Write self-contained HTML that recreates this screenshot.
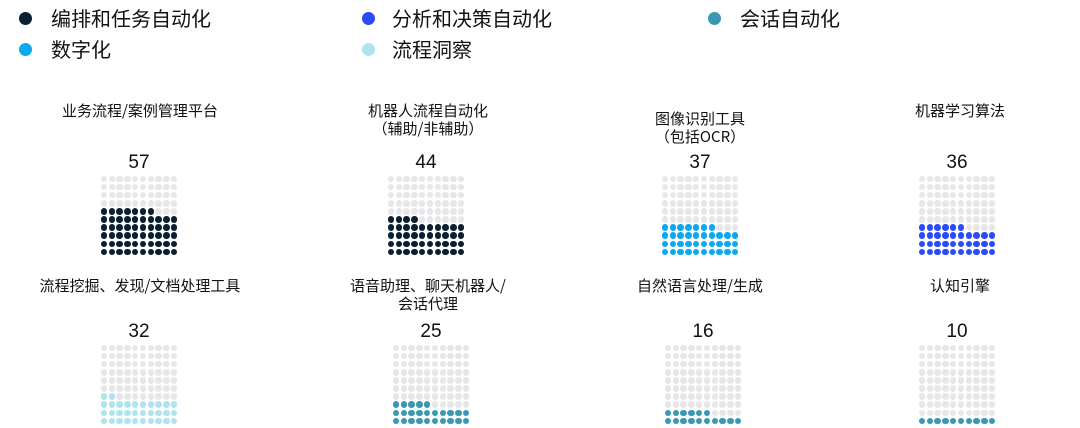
<!DOCTYPE html>
<html><head><meta charset="utf-8"><style>
body{margin:0;width:1080px;height:428px;background:#fff;position:relative;overflow:hidden;font-family:"Noto Sans CJK SC","Liberation Sans",sans-serif;color:#111}
.ld{position:absolute;width:13px;height:13px;border-radius:50%}
.lt{position:absolute;font-size:20px;line-height:22px}
.t{position:absolute;font-size:15px;line-height:18px;text-align:center;width:260px}
.n{position:absolute;font-size:19px;line-height:22px;text-align:center;width:100px;font-family:"Liberation Sans",sans-serif}
.d{position:absolute;width:6.6px;height:6.6px;border-radius:50%}
</style></head><body>
<div class="ld" style="left:19px;top:12px;background:#0b1f33"></div><div class="lt" style="left:51px;top:7px">编排和任务自动化</div>
<div class="ld" style="left:19px;top:43px;background:#0aa8ef"></div><div class="lt" style="left:51px;top:38px">数字化</div>
<div class="ld" style="left:362px;top:12px;background:#2a4bf5"></div><div class="lt" style="left:392px;top:7px">分析和决策自动化</div>
<div class="ld" style="left:362px;top:43px;background:#aee4ee"></div><div class="lt" style="left:392px;top:38px">流程洞察</div>
<div class="ld" style="left:708px;top:12px;background:#3a98b3"></div><div class="lt" style="left:740px;top:7px">会话自动化</div>
<div id="g"></div>
<script>
var C={d:"#0b1f33",b:"#2a4bf5",t:"#3a98b3",c:"#0aa8ef",l:"#aee4ee"};
var items=[
[140,102,"业务流程/案例管理平台",57,"d",104,179],
[428,102,"机器人流程自动化<br>（辅助/非辅助）",44,"d",391,179],
[700,110,"图像识别工具<br>（包括OCR）",37,"c",665,179],
[960,102,"机器学习算法",36,"b",922,179],
[140,277,"流程挖掘、发现/文档处理工具",32,"l",104,348],
[428,277,"语音助理、聊天机器人/<br>会话代理",25,"t",396,348],
[700,277,"自然语言处理/生成",16,"t",668,348],
[960,277,"认知引擎",10,"t",922,348]];
var h="";
items.forEach(function(it){
 h+='<div class="t" style="left:'+(it[0]-130)+'px;top:'+it[1]+'px">'+it[2]+'</div>';
 var ny=it[6]-27;
 h+='<div class="n" style="left:'+(it[5]+35-50)+'px;top:'+ny+'px">'+it[3]+'</div>';
 for(var r=0;r<10;r++)for(var c=0;c<10;c++){
  var idx=(9-r)*10+c; var col=idx<it[3]?C[it[4]]:"#e7e7ea";
  h+='<div class="d" style="left:'+(it[5]+c*7.8-3.3)+'px;top:'+(it[6]+r*8.1-3.3)+'px;background:'+col+'"></div>';
 }
});
document.getElementById("g").innerHTML=h;
</script>
</body></html>
